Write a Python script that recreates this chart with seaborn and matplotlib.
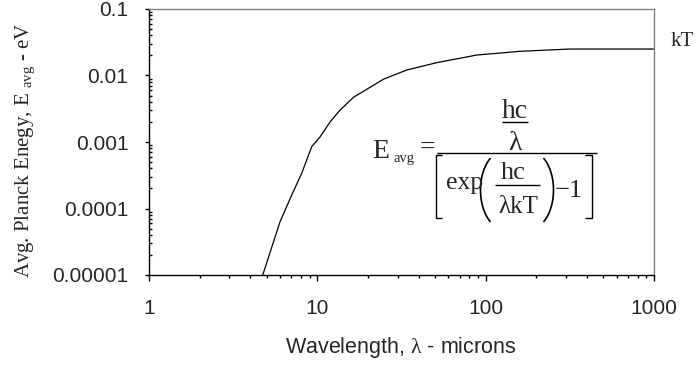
import numpy as np
import pandas as pd
import seaborn as sns
import matplotlib.pyplot as plt
from matplotlib.lines import Line2D
from matplotlib.ticker import FixedLocator, FixedFormatter, LogLocator, NullFormatter

# values (wavelength in microns, energy in eV)
wavelength = [4.74, 6.0, 7.05, 8.08, 9.26, 10.4, 11.9, 13.6, 16.4, 24.7, 34.0, 51.2, 88.5, 160, 316, 500, 1000]
energy = [1.0e-5, 6.3e-5, 1.6e-4, 3.4e-4, 8.5e-4, 1.2e-3, 2.0e-3, 3.0e-3, 4.7e-3, 8.8e-3, 0.0121, 0.0156, 0.0203, 0.0231, 0.0250, 0.0250, 0.0250]

x_ticks = [1, 10, 100, 1000]
x_labels = ["1", "10", "100", "1000"]
y_ticks = [1e-5, 1e-4, 1e-3, 1e-2, 1e-1]
y_labels = ["0.00001", "0.0001", "0.001", "0.01", "0.1"]

df = pd.DataFrame({"wavelength": wavelength, "energy": energy})

sns.set_theme(style="white")
plt.rcParams["font.family"] = ["Liberation Sans", "DejaVu Sans"]
plt.rcParams["mathtext.fontset"] = "custom"
plt.rcParams["mathtext.rm"] = "Liberation Serif"
plt.rcParams["mathtext.it"] = "Liberation Serif"
plt.rcParams["mathtext.sf"] = "Liberation Sans"

W, H = 699, 366
fig = plt.figure(figsize=(W / 100, H / 100), dpi=100)
ax = fig.add_axes([149 / W, 1 - 275 / H, (654 - 149) / W, (275 - 9) / H])

sns.lineplot(data=df, x="wavelength", y="energy", ax=ax, color="black", lw=0.9)

ax.set_xscale("log")
ax.set_yscale("log")
ax.set_xlim(1, 1000)
ax.set_ylim(1e-5, 0.1)

ax.xaxis.set_major_locator(FixedLocator(x_ticks))
ax.xaxis.set_major_formatter(FixedFormatter(x_labels))
ax.yaxis.set_major_locator(FixedLocator(y_ticks))
ax.yaxis.set_major_formatter(FixedFormatter(y_labels))
ax.xaxis.set_minor_locator(LogLocator(base=10, subs=np.arange(2, 10)))
ax.yaxis.set_minor_locator(LogLocator(base=10, subs=np.arange(2, 10)))
ax.xaxis.set_minor_formatter(NullFormatter())
ax.yaxis.set_minor_formatter(NullFormatter())

ax.tick_params(axis="x", which="major", direction="out", length=4.3, width=1, color="black",
               labelsize=15, pad=13, bottom=True)
ax.tick_params(axis="x", which="minor", direction="out", length=2.5, width=1, color="black", bottom=True)
ax.tick_params(axis="y", which="major", direction="out", length=2.9, width=1, color="black",
               labelsize=15, pad=12, left=True)
ax.tick_params(axis="y", which="minor", direction="in", length=2.2, width=1, color="black", left=True)

for side in ["left", "bottom"]:
    ax.spines[side].set_color("black")
    ax.spines[side].set_linewidth(1)
for side in ["top", "right"]:
    ax.spines[side].set_color("#808080")
    ax.spines[side].set_linewidth(1)
ax.grid(False)
ax.set_xlabel("")
ax.set_ylabel("")


def fx(x):
    return x / W


def fy(y):
    return 1 - y / H


def seg(xs, ys, lw=1.0):
    fig.add_artist(Line2D([fx(v) for v in xs], [fy(v) for v in ys], color="black", lw=lw,
                          transform=fig.transFigure, solid_capstyle="butt"))


serif = "Liberation Serif"

fig.text(fx(401), fy(347), r"Wavelength, $\lambda$ - microns", fontsize=15.5,
         ha="center", va="center")
fig.text(fx(25), fy(150), r"Avg. Planck Enegy, E $_{\rm avg}$ - eV", rotation=90,
         ha="center", va="center", fontsize=15, family=serif)

fig.text(fx(671), fy(46), "kT", fontsize=15, family=serif, ha="left", va="baseline")

# formula, drawn piece by piece
fs = 20
fd = 19
fig.text(fx(372), fy(158), "E", fontsize=fs, family=serif, ha="left", va="baseline")
fig.text(fx(393), fy(162), "avg", fontsize=10.5, family=serif, ha="left", va="baseline")
fig.text(fx(427), fy(155), "=", fontsize=fs, family=serif, ha="center", va="baseline")
seg([437, 597], [153, 153])
fig.text(fx(515), fy(118), "hc", fontsize=fs, family=serif, ha="center", va="baseline")
seg([502, 528], [122, 122])
fig.text(fx(515), fy(150), "λ", fontsize=fs, family=serif, ha="center", va="baseline")
seg([442, 436, 436, 442], [155, 155, 218, 218])
seg([585, 592, 592, 585], [155, 155, 218, 218])
fig.text(fx(446), fy(189), "exp", fontsize=18.5, family=serif, ha="left", va="baseline")
ang = np.radians(np.linspace(125, 235, 40))
seg(504 + 23.5 * np.cos(ang), 190 - 39 * np.sin(ang), lw=1.2)
ang = np.radians(np.linspace(-55, 55, 40))
seg(530 + 23.5 * np.cos(ang), 190 - 39 * np.sin(ang), lw=1.2)
fig.text(fx(513), fy(179), "hc", fontsize=fd, family=serif, ha="center", va="baseline")
seg([495, 540], [185, 185])
fig.text(fx(518.5), fy(213), "λkT", fontsize=18, family=serif, ha="center", va="baseline")
fig.text(fx(555), fy(197), "\u22121", fontsize=fd, family=serif, ha="left", va="baseline")

fig.savefig("out.png", dpi=100)
